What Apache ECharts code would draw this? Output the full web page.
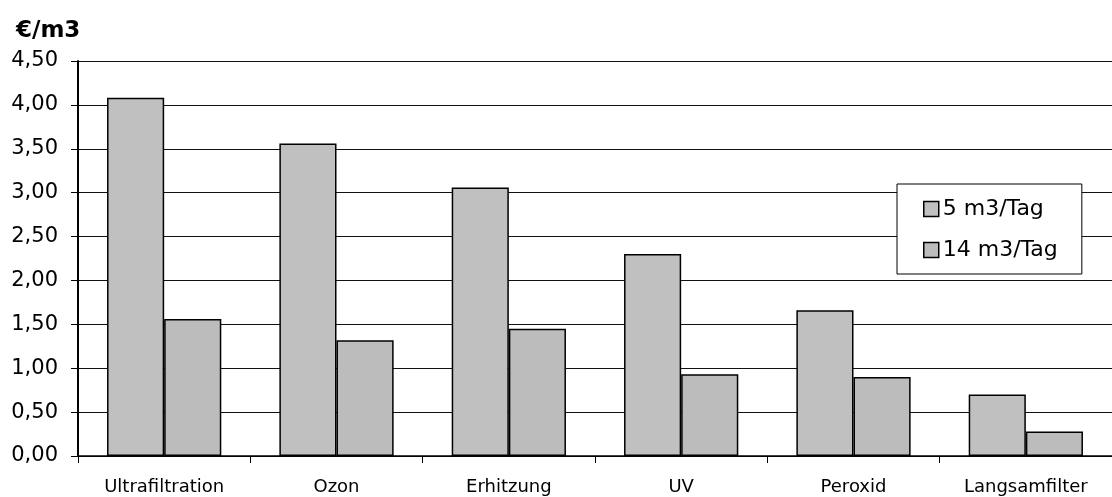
<!DOCTYPE html>
<html><head><meta charset="utf-8">
<script src="https://cdn.jsdelivr.net/npm/echarts@6/dist/echarts.min.js"></script>
<style>html,body{margin:0;padding:0;background:#fff}#c{width:1112px;height:497px}</style>
</head><body><div id="c"></div>
<script>
const categories = ['Ultrafiltration','Ozon','Erhitzung','UV','Peroxid','Langsamfilter'];
const seriesNames = ['5 m3/Tag','14 m3/Tag'];
const values5 = [4.08, 3.56, 3.06, 2.30, 1.66, 0.70];
const values14 = [1.56, 1.32, 1.45, 0.93, 0.90, 0.28];
const yTitle = '€/m3';

const chart = echarts.init(document.getElementById('c'), null, {renderer:'canvas'});
const font = '"DejaVu Sans", sans-serif';
chart.setOption({
  animation:false,
  backgroundColor:'#fff',
  title:{text:yTitle,left:11,top:15,textStyle:{fontFamily:font,fontWeight:'bold',fontSize:23,color:'#000'}},
  legend:{
    orient:'vertical', left:897, top:184,
    padding:[14,24,13,26], itemGap:19,
    backgroundColor:'#fff', borderColor:'#000', borderWidth:1,
    itemWidth:15, itemHeight:15, icon:'rect',
    itemStyle:{borderColor:'#000',borderWidth:1.5},
    textStyle:{fontFamily:font,fontSize:22,color:'#000',padding:[0,0,0,-1]},
    data:seriesNames
  },
  grid:{left:78, top:61, height:395, width:1048, containLabel:false},
  xAxis:{
    type:'category', data:categories,
    axisLine:{lineStyle:{color:'#000',width:1.5}},
    axisTick:{show:true,length:7,lineStyle:{color:'#000'}},
    axisLabel:{fontFamily:font,fontSize:18,color:'#000',margin:22}
  },
  yAxis:{
    type:'value', min:0, max:4.5, interval:0.5,
    axisLine:{show:true,lineStyle:{color:'#000',width:2}},
    axisTick:{show:true,length:7,lineStyle:{color:'#000'}},
    axisLabel:{fontFamily:font,fontSize:21,color:'#000',margin:20,padding:[3,0,0,0],
      formatter:v=>v.toFixed(2).replace('.',',')},
    splitLine:{lineStyle:{color:'#111',width:1.2}}
  },
  series:[
    {name:seriesNames[0],type:'bar',data:values5,barGap:'0%',barCategoryGap:'33.7%',
     itemStyle:{color:'#c0c0c0',borderColor:'#000',borderWidth:1.5}},
    {name:seriesNames[1],type:'bar',data:values14,
     itemStyle:{color:'#bcbcbc',borderColor:'#000',borderWidth:1.5}}
  ]
});
</script></body></html>
